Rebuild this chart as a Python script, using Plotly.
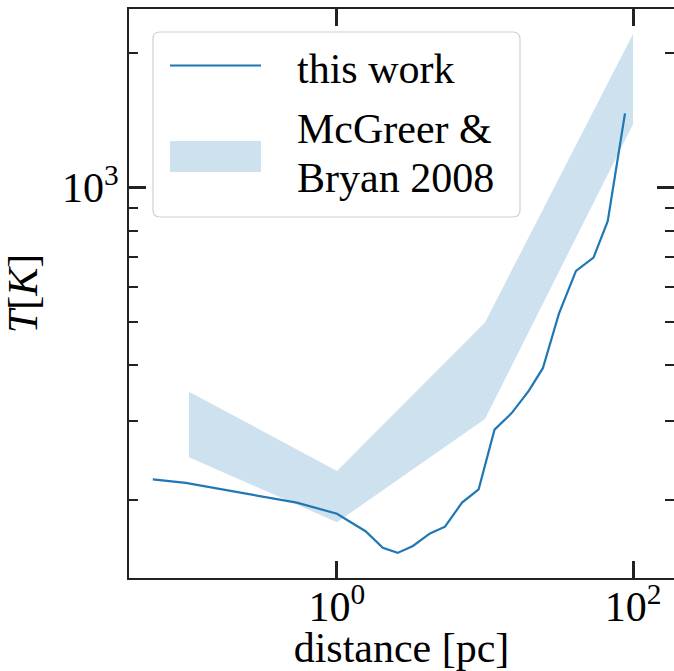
import numpy as np
import plotly.graph_objects as go

# ---- data ----
work_dist = [0.057, 0.095, 0.535, 1.0, 1.56, 2.04, 2.57, 3.26, 4.25, 5.37, 7.0, 9.06,
             11.6, 15.2, 19.8, 24.6, 31.6, 41.2, 54.1, 67.5, 88.3]
work_temp = [222, 218, 197, 186, 170, 156, 152, 157.5, 168, 174, 197, 211,
             287, 313, 351, 394, 522, 651, 697, 841, 1466]

mb_dist = [0.1, 1.0, 10.0, 100.0]
mb_upper = [349, 232, 499, 2208]
mb_lower = [249, 178, 303, 1387]

x_ticks = [1, 100]
x_ticktext = ["10<sup>0</sup>", "10<sup>2</sup>"]
y_ticks = [1000]
y_ticktext = ["10<sup>3</sup>"]
y_minor = [200, 300, 400, 500, 600, 700, 800, 900, 2000]

C0 = "#1f77b4"
BAND = "rgba(31,119,180,0.22)"
FONT = "Liberation Serif"
FS = 42
AX = "#222222"

fig = go.Figure()
fig.add_trace(go.Scatter(x=mb_dist, y=mb_upper, mode="lines", line=dict(width=0),
                         showlegend=False, hoverinfo="skip"))
fig.add_trace(go.Scatter(x=mb_dist, y=mb_lower, mode="lines", line=dict(width=0),
                         fill="tonexty", fillcolor=BAND, showlegend=False, hoverinfo="skip"))
fig.add_trace(go.Scatter(x=work_dist, y=work_temp, mode="lines",
                         line=dict(color=C0, width=2.2), showlegend=False))
# invisible trace to activate right-side y axis
fig.add_trace(go.Scatter(x=work_dist, y=work_temp, yaxis="y2", mode="lines",
                         line=dict(width=0), opacity=0, showlegend=False, hoverinfo="skip"))

yr = [2.1256, 3.400]
fig.update_layout(
    width=674, height=671,
    margin=dict(l=129, r=0, t=9, b=93),
    paper_bgcolor="white", plot_bgcolor="white",
    font=dict(family=FONT, size=FS, color="black"),
    xaxis=dict(type="log", range=[-1.405, 2.277], showgrid=False, zeroline=False,
               showline=True, linecolor=AX, linewidth=2, mirror="ticks",
               ticks="inside", ticklen=17, tickwidth=3, tickcolor=AX,
               tickmode="array", tickvals=x_ticks, ticktext=x_ticktext,
               tickfont=dict(family=FONT, size=FS), ticklabelstandoff=-9,
               title=dict(text="distance [pc]", font=dict(family=FONT, size=FS), standoff=3)),
    yaxis=dict(type="log", range=yr, showgrid=False, zeroline=False,
               showline=True, linecolor=AX, linewidth=2, mirror=False,
               ticks="inside", ticklen=17, tickwidth=3, tickcolor=AX,
               tickmode="array", tickvals=y_ticks, ticktext=y_ticktext,
               tickfont=dict(family=FONT, size=FS),
               minor=dict(tickmode="array", tickvals=y_minor, ticks="inside",
                          ticklen=9, tickwidth=2, tickcolor=AX, showgrid=False),
               title=dict(text="<i>T</i>[<i>K</i>]", font=dict(family=FONT, size=FS), standoff=12)),
    yaxis2=dict(type="log", range=yr, overlaying="y", side="right", showgrid=False,
                zeroline=False, showline=False,
                ticks="inside", ticklen=17, tickwidth=3, tickcolor=AX,
                tickmode="array", tickvals=y_ticks, showticklabels=False,
                minor=dict(tickmode="array", tickvals=y_minor, ticks="inside",
                           ticklen=9, tickwidth=2, tickcolor=AX, showgrid=False)),
)

# ---- custom legend (paper coordinates) ----
W = 545.0
H = 569.0
def px(x):
    return (x - 129) / W
def py(y):
    return (578 - y) / H

x0, x1, y0, y1, r = 153, 520, 32, 217, 7
path = (f"M {px(x0+r)},{py(y0)} L {px(x1-r)},{py(y0)} Q {px(x1)},{py(y0)} {px(x1)},{py(y0+r)} "
        f"L {px(x1)},{py(y1-r)} Q {px(x1)},{py(y1)} {px(x1-r)},{py(y1)} "
        f"L {px(x0+r)},{py(y1)} Q {px(x0)},{py(y1)} {px(x0)},{py(y1-r)} "
        f"L {px(x0)},{py(y0+r)} Q {px(x0)},{py(y0)} {px(x0+r)},{py(y0)} Z")
fig.add_shape(type="path", path=path, xref="paper", yref="paper",
              fillcolor="rgba(255,255,255,0.85)", line=dict(color="#d0d0d0", width=1.2))
fig.add_shape(type="line", xref="paper", yref="paper", x0=px(170), x1=px(261),
              y0=py(65.5), y1=py(65.5), line=dict(color=C0, width=2.2))
fig.add_shape(type="rect", xref="paper", yref="paper", x0=px(170), x1=px(261),
              y0=py(141), y1=py(172), fillcolor=BAND, line=dict(width=0))
for txt, yc in [("this work", 69), ("McGreer &", 129), ("Bryan 2008", 178)]:
    fig.add_annotation(text=txt, xref="paper", yref="paper", x=px(295), y=py(yc),
                       xanchor="left", yanchor="middle", showarrow=False,
                       font=dict(family=FONT, size=FS, color="black"))

fig.write_html("out.html")
